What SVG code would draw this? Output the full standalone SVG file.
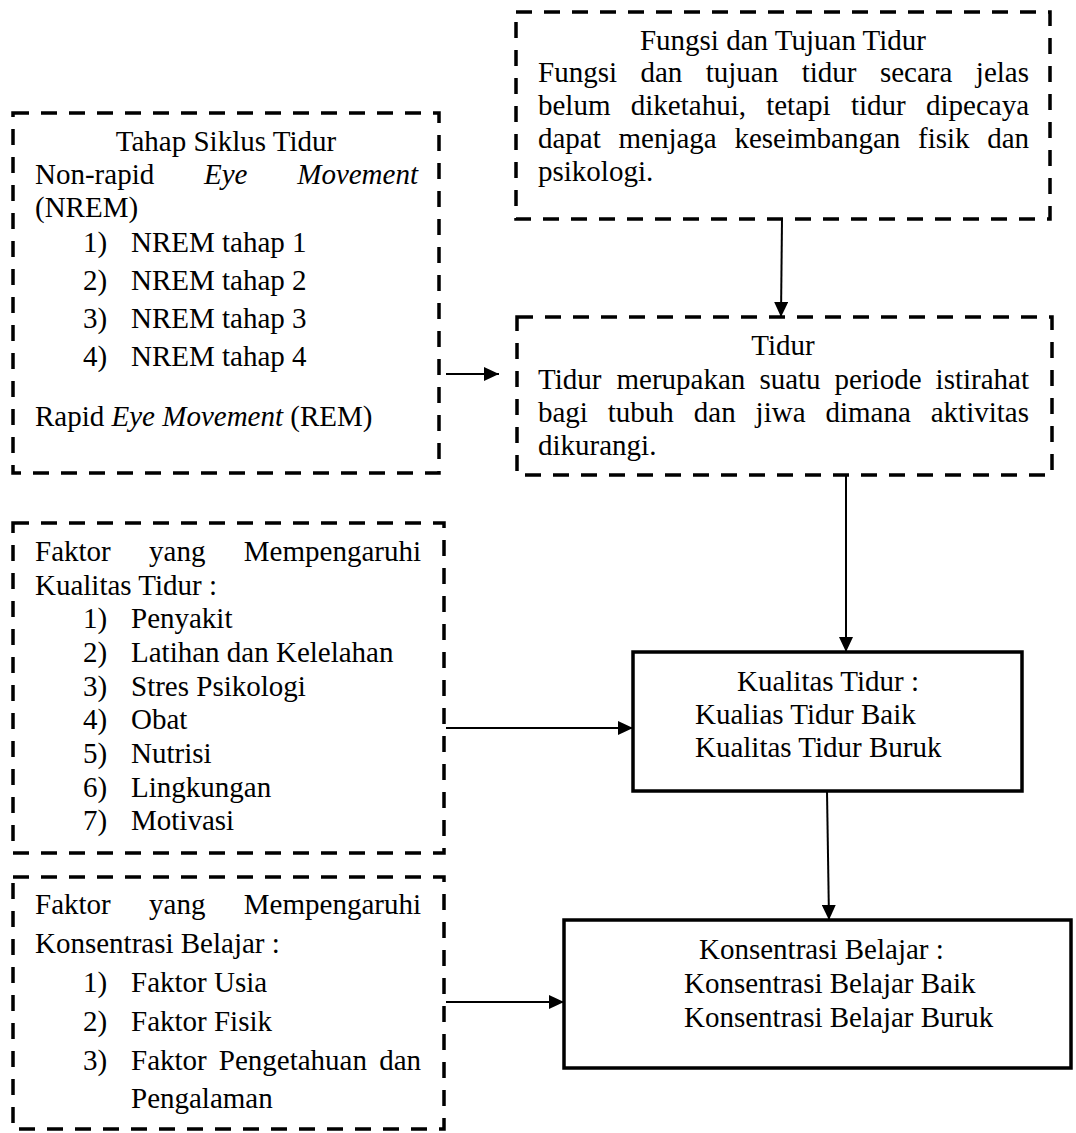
<svg xmlns="http://www.w3.org/2000/svg" width="1076" height="1133" viewBox="0 0 1076 1133">
<style>
.t{font-family:"Liberation Serif","Times New Roman",serif;font-size:29px;fill:#000}
.i{font-style:italic}
.m{text-anchor:middle}
.e{text-anchor:end}
.d{fill:none;stroke:#000;stroke-width:3.5;stroke-dasharray:16 12}
.s{fill:none;stroke:#000;stroke-width:3.5}
.c{fill:none;stroke:#000;stroke-width:2;marker-end:url(#ah)}
</style>
<defs>
<marker id="ah" markerUnits="userSpaceOnUse" markerWidth="15" markerHeight="14" refX="15" refY="7" orient="auto">
<path d="M0,0 L15,7 L0,14 z" fill="#000"/>
</marker>
</defs>
<rect width="1076" height="1133" fill="#fff"/>

<g id="fungsi">
<rect class="d" x="516" y="12" width="534" height="207"/>
<text class="t m" x="783" y="50">Fungsi dan Tujuan Tidur</text>
<text class="t" y="82"><tspan x="538">Fungsi</tspan><tspan x="640.4">dan</tspan><tspan x="705.7">tujuan</tspan><tspan x="801.7">tidur</tspan><tspan x="879.9">secara</tspan></text>
<text class="t e" x="1029" y="82">jelas</text>
<text class="t" y="115"><tspan x="538">belum</tspan><tspan x="630.8">diketahui,</tspan><tspan x="766.2">tetapi</tspan><tspan x="850.9">tidur</tspan></text>
<text class="t e" x="1029" y="115">dipecaya</text>
<text class="t" y="148"><tspan x="538">dapat</tspan><tspan x="618.5">menjaga</tspan><tspan x="734.4">keseimbangan</tspan><tspan x="918">fisik</tspan></text>
<text class="t e" x="1029" y="148">dan</text>
<text class="t" x="538" y="181">psikologi.</text>
</g>

<g id="tidur">
<rect class="d" x="517" y="317" width="535" height="158"/>
<text class="t m" x="783" y="355">Tidur</text>
<text class="t" y="389"><tspan x="538">Tidur</tspan><tspan x="616.5">merupakan</tspan><tspan x="759.4">suatu</tspan><tspan x="834.6">periode</tspan></text>
<text class="t e" x="1029" y="389">istirahat</text>
<text class="t" y="422"><tspan x="538">bagi</tspan><tspan x="607.8">tubuh</tspan><tspan x="693.8">dan</tspan><tspan x="755.6">jiwa</tspan><tspan x="825.4">dimana</tspan></text>
<text class="t e" x="1029" y="422">aktivitas</text>
<text class="t" x="538" y="455">dikurangi.</text>
</g>

<g id="tahap">
<rect class="d" x="13" y="113" width="426" height="360"/>
<text class="t m" x="226" y="151">Tahap Siklus Tidur</text>
<text class="t" y="184"><tspan x="35">Non-rapid</tspan><tspan class="i" x="204">Eye</tspan></text>
<text class="t i e" x="418" y="184">Movement</text>
<text class="t" x="35" y="217">(NREM)</text>
<text class="t" x="83" y="252">1)</text><text class="t" x="131" y="252">NREM tahap 1</text>
<text class="t" x="83" y="290">2)</text><text class="t" x="131" y="290">NREM tahap 2</text>
<text class="t" x="83" y="328">3)</text><text class="t" x="131" y="328">NREM tahap 3</text>
<text class="t" x="83" y="366">4)</text><text class="t" x="131" y="366">NREM tahap 4</text>
<text class="t" x="35" y="426">Rapid <tspan class="i">Eye Movement</tspan> (REM)</text>
</g>

<g id="faktor-kualitas">
<rect class="d" x="13" y="523" width="431" height="330"/>
<text class="t" y="561"><tspan x="35">Faktor</tspan><tspan x="149.1">yang</tspan></text>
<text class="t e" x="421" y="561">Mempengaruhi</text>
<text class="t" x="35" y="595">Kualitas Tidur :</text>
<text class="t" x="83" y="628">1)</text><text class="t" x="131" y="628">Penyakit</text>
<text class="t" x="83" y="662">2)</text><text class="t" x="131" y="662">Latihan dan Kelelahan</text>
<text class="t" x="83" y="696">3)</text><text class="t" x="131" y="696">Stres Psikologi</text>
<text class="t" x="83" y="729">4)</text><text class="t" x="131" y="729">Obat</text>
<text class="t" x="83" y="763">5)</text><text class="t" x="131" y="763">Nutrisi</text>
<text class="t" x="83" y="797">6)</text><text class="t" x="131" y="797">Lingkungan</text>
<text class="t" x="83" y="830">7)</text><text class="t" x="131" y="830">Motivasi</text>
</g>

<g id="faktor-konsentrasi">
<rect class="d" x="13" y="877" width="431" height="252"/>
<text class="t" y="914"><tspan x="35">Faktor</tspan><tspan x="149.1">yang</tspan></text>
<text class="t e" x="421" y="914">Mempengaruhi</text>
<text class="t" x="35" y="953">Konsentrasi Belajar :</text>
<text class="t" x="83" y="992">1)</text><text class="t" x="131" y="992">Faktor Usia</text>
<text class="t" x="83" y="1031">2)</text><text class="t" x="131" y="1031">Faktor Fisik</text>
<text class="t" x="83" y="1070">3)</text><text class="t" y="1070"><tspan x="131">Faktor</tspan><tspan x="218.8">Pengetahuan</tspan></text>
<text class="t e" x="421" y="1070">dan</text>
<text class="t" x="131" y="1108">Pengalaman</text>
</g>

<g id="kualitas">
<rect class="s" x="633" y="652" width="389" height="139"/>
<text class="t" x="737" y="691">Kualitas Tidur :</text>
<text class="t" x="695" y="724">Kualias Tidur Baik</text>
<text class="t" x="695" y="757">Kualitas Tidur Buruk</text>
</g>

<g id="konsentrasi">
<rect class="s" x="564" y="920" width="507" height="148"/>
<text class="t" x="699" y="959">Konsentrasi Belajar :</text>
<text class="t" x="684" y="993">Konsentrasi Belajar Baik</text>
<text class="t" x="684" y="1027">Konsentrasi Belajar Buruk</text>
</g>

<g id="connectors">
<path class="c" d="M782,219 L781,317"/>
<path class="c" d="M446,374 L499,374"/>
<path class="c" d="M846,475 L846,652"/>
<path class="c" d="M446,728 L633,728"/>
<path class="c" d="M827,791 L829,920"/>
<path class="c" d="M446,1002 L564,1002"/>
</g>
</svg>
